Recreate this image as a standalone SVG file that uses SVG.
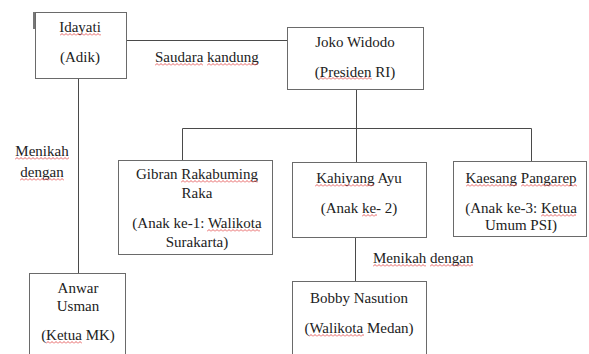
<svg xmlns="http://www.w3.org/2000/svg" width="589" height="354" viewBox="0 0 589 354">
<defs>
<pattern id="sq" patternUnits="userSpaceOnUse" width="4" height="3">
<path d="M0,2.5 L2,0.5 L4,2.5" fill="none" stroke="#e03a3a" stroke-width="0.8"/>
</pattern>
<style>
.box{fill:#fff;stroke:#6a6a6a;stroke-width:1}
.ln{fill:none;stroke:#4a4a4a;stroke-width:1}
text{font-family:"Liberation Serif","Times New Roman",serif;font-size:15px;fill:#222}
.c{text-anchor:middle}
.sq{fill:url(#sq)}
</style>
</defs>
<rect width="589" height="354" fill="#fff"/>
<g id="connectors">
<path class="ln" d="M126,40.5 H287"/>
<path class="ln" d="M78.5,78 V273"/>
<path class="ln" d="M356.5,79 V162"/>
<path class="ln" d="M182.5,128.5 H531.5"/>
<path class="ln" d="M182.5,128.5 V160"/>
<path class="ln" d="M531.5,128.5 V161"/>
<path class="ln" d="M355.5,237 V281"/>
</g>
<g id="idayati">
<rect class="box" x="35.5" y="12.5" width="91" height="66"/>
<rect x="33" y="12" width="2" height="17" fill="#777"/>
<text class="c" x="80" y="32">Idayati</text>
<text class="c" x="80" y="62">(Adik)</text>
<rect class="sq" transform="translate(60,33)" width="41" height="3"/>
</g>
<g id="label-saudara">
<text x="155" y="62">Saudara kandung</text>
<rect class="sq" transform="translate(155,63)" width="48" height="3"/>
<rect class="sq" transform="translate(207,63)" width="51" height="3"/>
</g>
<g id="joko">
<rect class="box" x="287.5" y="27.5" width="136" height="62"/>
<text class="c" x="355" y="47">Joko Widodo</text>
<text class="c" x="355" y="77">(Presiden RI)</text>
<rect class="sq" transform="translate(319,77)" width="53" height="3"/>
</g>
<g id="label-menikah-left">
<text class="c" x="42" y="156">Menikah</text>
<text class="c" x="42" y="177">dengan</text>
<rect class="sq" transform="translate(15,157)" width="54" height="3"/>
<rect class="sq" transform="translate(20,178)" width="44" height="3"/>
</g>
<g id="gibran">
<rect class="box" x="118.5" y="160.5" width="154" height="94"/>
<text class="c" x="197" y="179">Gibran Rakabuming</text>
<text class="c" x="197" y="198">Raka</text>
<text class="c" x="197" y="228">(Anak ke-1: Walikota</text>
<text class="c" x="197" y="247">Surakarta)</text>
<rect class="sq" transform="translate(181,180)" width="77" height="3"/>
<rect class="sq" transform="translate(207,229)" width="53" height="3"/>
</g>
<g id="kahiyang">
<rect class="box" x="292.5" y="162.5" width="134" height="75"/>
<text class="c" x="359" y="183">Kahiyang Ayu</text>
<text class="c" x="359" y="213">(Anak ke- 2)</text>
<rect class="sq" transform="translate(315,184)" width="59" height="3"/>
<rect class="sq" transform="translate(362,214)" width="15" height="3"/>
</g>
<g id="kaesang">
<rect class="box" x="453.5" y="161.5" width="133" height="75"/>
<text class="c" x="521" y="183">Kaesang Pangarep</text>
<text class="c" x="521" y="213">(Anak ke-3: Ketua</text>
<text class="c" x="521" y="230">Umum PSI)</text>
<rect class="sq" transform="translate(466,184)" width="51" height="3"/>
<rect class="sq" transform="translate(521,184)" width="56" height="3"/>
<rect class="sq" transform="translate(541,214)" width="35" height="3"/>
</g>
<g id="label-menikah-bottom">
<text x="373" y="263">Menikah dengan</text>
<rect class="sq" transform="translate(373,264)" width="53" height="3"/>
<rect class="sq" transform="translate(430,264)" width="43" height="3"/>
</g>
<g id="anwar">
<rect class="box" x="29.5" y="273.5" width="96" height="100"/>
<text class="c" x="78" y="293">Anwar</text>
<text class="c" x="78" y="311">Usman</text>
<text class="c" x="78" y="340">(Ketua MK)</text>
<rect class="sq" transform="translate(46,341)" width="36" height="3"/>
</g>
<g id="bobby">
<rect class="box" x="292.5" y="281.5" width="134" height="100"/>
<text class="c" x="359" y="303">Bobby Nasution</text>
<text class="c" x="359" y="333">(Walikota Medan)</text>
<rect class="sq" transform="translate(309,334)" width="55" height="3"/>
</g>
</svg>
